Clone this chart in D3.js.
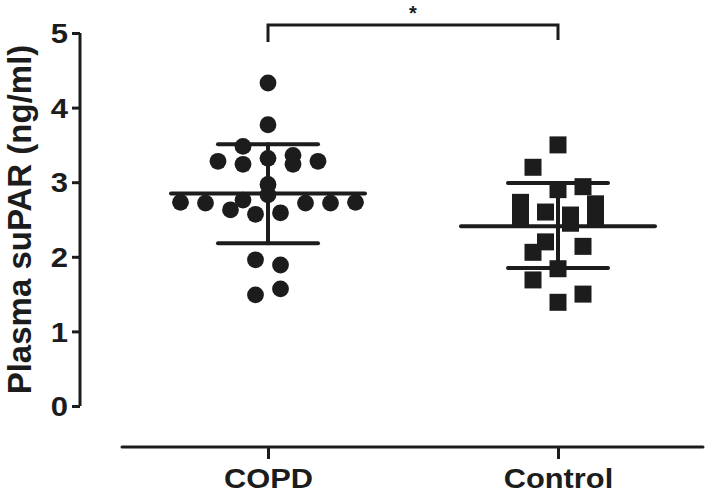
<!DOCTYPE html>
<html>
<head>
<meta charset="utf-8">
<script src="https://cdn.jsdelivr.net/npm/d3@7"></script>
<style>
  html, body { margin: 0; padding: 0; background: #fff; }
  svg { display: block; }
  text { font-family: "Liberation Sans", Arial, sans-serif; font-weight: bold; fill: #1c1c1c; }
</style>
</head>
<body>
<svg id="chart" width="708" height="494"></svg>
<script>
// ---- data ----
const groups = ["COPD", "Control"];
const yTicks = [0, 1, 2, 3, 4, 5];
const yLabel = "Plasma suPAR (ng/ml)";
const sigLabel = "*";

// COPD (circles): values and beeswarm column slot
const copdValues = [4.33, 3.77, 3.48, 3.28, 3.24, 3.32, 3.36, 3.24, 3.28, 2.97, 2.83,
                    2.73, 2.72, 2.63, 2.76, 2.57, 2.59, 2.72, 2.72, 2.73, 1.96, 1.89, 1.49, 1.57];
const copdSlots  = [0, 0, -2, -4, -2, 0, 2, 2, 4, 0, 0,
                    -7, -5, -3, -2, -1, 1, 3, 5, 7, -1, 1, -1, 1];
const copdMean = 2.85, copdSdHigh = 3.51, copdSdLow = 2.18;

// Control (squares)
const ctrlValues = [3.50, 3.20, 2.94, 2.90, 2.73, 2.53, 2.71, 2.52, 2.60, 2.56, 2.45,
                    2.20, 2.06, 2.14, 1.84, 1.69, 1.39, 1.50];
const ctrlSlots  = [0, -2, 2, 0, -3, -3, 3, 3, -1, 1, 1,
                    -1, -2, 2, 0, -2, 0, 2];
const ctrlMean = 2.41, ctrlSdHigh = 2.99, ctrlSdLow = 1.85;

// ---- layout ----
const svg = d3.select("#chart");
const ink = "#1c1c1c";
const y = d3.scaleLinear().domain([0, 5]).range([406, 33]);
const x = d3.scalePoint().domain(groups).range([268, 558]);
const slot = d3.scaleLinear().domain([-1, 1]).range([-12.5, 12.5]);
const fontFam = '"Liberation Sans", Arial, sans-serif';

// Y axis
const yAxis = svg.append("g").attr("transform", "translate(80,0)")
  .call(d3.axisLeft(y).tickValues(yTicks).tickFormat(d3.format("d")).tickSize(8).tickPadding(5));
yAxis.select(".domain").attr("d", `M0,${y(5)}V${y(0)}`).attr("stroke", ink).attr("stroke-width", 3);
yAxis.selectAll(".tick line").attr("stroke", ink).attr("stroke-width", 3);
yAxis.selectAll(".tick text").attr("font-size", 27).attr("x", 0).attr("dy", "0.36em")
  .attr("transform", "translate(-12,0) scale(1.15,1)")
  .style("font-family", fontFam).style("font-weight", "bold").attr("fill", ink);

// X axis
const xAxis = svg.append("g").attr("transform", "translate(0,447)")
  .call(d3.axisBottom(x).tickSize(12).tickPadding(9));
xAxis.select(".domain").attr("d", "M122,0H703").attr("stroke", ink).attr("stroke-width", 3).attr("stroke-linecap", "round");
xAxis.selectAll(".tick line").attr("stroke", ink).attr("stroke-width", 3);
xAxis.selectAll(".tick text").attr("font-size", 28).attr("y", 0).attr("dy", "0.71em")
  .attr("transform", "translate(0,21) scale(1.1,1)")
  .style("font-family", fontFam).style("font-weight", "bold").attr("fill", ink);

// Y label
svg.append("text")
  .attr("transform", `translate(31,${(y(0) + y(5)) / 2}) rotate(-90)`)
  .attr("text-anchor", "middle").attr("font-size", 33).text(yLabel);

// Data points
const copd = copdValues.map((v, i) => ({ v, s: copdSlots[i] }));
const ctrl = ctrlValues.map((v, i) => ({ v, s: ctrlSlots[i] }));

svg.append("g").selectAll("circle").data(copd).join("circle")
  .attr("cx", d => x("COPD") + slot(d.s)).attr("cy", d => y(d.v)).attr("r", 8.4).attr("fill", ink);

const sq = 17;
svg.append("g").selectAll("rect").data(ctrl).join("rect")
  .attr("x", d => x("Control") + slot(d.s) - sq / 2).attr("y", d => y(d.v) - sq / 2)
  .attr("width", sq).attr("height", sq).attr("fill", ink);

// mean & SD
const stats = [
  { g: "COPD", mean: copdMean, hi: copdSdHigh, lo: copdSdLow },
  { g: "Control", mean: ctrlMean, hi: ctrlSdHigh, lo: ctrlSdLow }
];
const sg = svg.append("g").attr("stroke", ink).attr("stroke-linecap", "round");
stats.forEach(s => {
  const cx = x(s.g);
  sg.append("line").attr("x1", cx).attr("x2", cx).attr("y1", y(s.hi)).attr("y2", y(s.lo)).attr("stroke-width", 4);
  sg.append("line").attr("x1", cx - 97).attr("x2", cx + 97).attr("y1", y(s.mean)).attr("y2", y(s.mean)).attr("stroke-width", 4);
  sg.append("line").attr("x1", cx - 50).attr("x2", cx + 50).attr("y1", y(s.hi)).attr("y2", y(s.hi)).attr("stroke-width", 4);
  sg.append("line").attr("x1", cx - 50).attr("x2", cx + 50).attr("y1", y(s.lo)).attr("y2", y(s.lo)).attr("stroke-width", 4);
});

// significance bracket
const bx1 = x("COPD"), bx2 = x("Control");
svg.append("path")
  .attr("d", `M${bx1},42V25H${bx2}V40`)
  .attr("fill", "none").attr("stroke", ink).attr("stroke-width", 3);
svg.append("text").attr("x", (bx1 + bx2) / 2).attr("y", 20)
  .attr("text-anchor", "middle").attr("font-size", 20).attr("font-weight", "normal").text(sigLabel);
</script>
</body>
</html>
